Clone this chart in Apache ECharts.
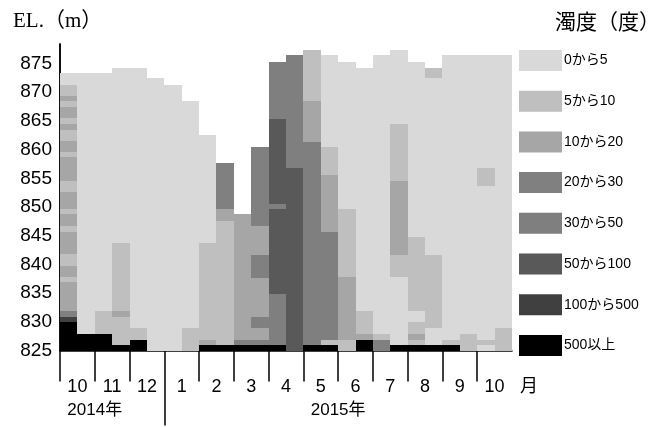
<!DOCTYPE html>
<html><head><meta charset="utf-8">
<script src="https://cdn.jsdelivr.net/npm/echarts@6/dist/echarts.min.js"></script>
<style>html,body{margin:0;padding:0;background:#fff}#c{width:668px;height:427px}</style>
</head><body><div id="c"></div>
<script>
// ---- data ----
const baseElevation = 825;
const classLabels = ['0から5','5から10','10から20','20から30','30から50','50から100','100から500','500以上'];
const monthLabels = ['10','11','12','1','2','3','4','5','6','7','8','9','10'];
const yearLabels = ['2014年','2015年'];
const yearLabelPos = [2, 16];
const yearDivider = [6];
// each month: two half-month profiles; each profile = runs of [class index, top elevation (m)] from 825 m upward
const oct2014 = [
  [[7,829.9],[6,830.9],[3,831.9],[2,836.9],[1,837.8],[2,839.8],[1,841.8],[2,845.7],[1,846.7],[2,848.7],[1,849.7],[2,852.6],[1,854.6],[2,858.7],[1,859.5],[2,861.5],[1,863.5],[2,864.4],[1,865.5],[2,867.5],[1,868.4],[2,869.4],[1,871.3],[0,873.4]],
  [[7,827.8],[0,873.4]]
];
const nov2014 = [
  [[7,827.8],[1,831.8],[0,873.4]],
  [[7,825.9],[1,830.9],[2,831.9],[1,843.7],[0,874.3]]
];
const dec2014 = [
  [[7,826.9],[1,829.0],[0,874.3]],
  [[0,872.4]]
];
const jan2015 = [
  [[0,871.3]],
  [[1,829.0],[0,868.4]]
];
const feb2015 = [
  [[7,825.9],[2,826.9],[1,843.7],[0,862.6]],
  [[7,825.9],[1,847.6],[2,849.7],[3,857.6]]
];
const mar2015 = [
  [[7,825.9],[3,826.9],[2,848.7]],
  [[7,825.9],[3,826.9],[2,829.0],[3,830.9],[2,837.7],[3,841.7],[2,846.7],[3,860.5]]
];
const apr2015 = [
  [[7,825.9],[4,834.9],[5,849.7],[4,850.6],[5,865.4],[4,875.3]],
  [[5,856.8],[4,876.4]]
];
const may2015 = [
  [[7,825.9],[4,861.4],[2,868.4],[1,877.4]],
  [[7,825.9],[1,826.9],[4,845.7],[2,855.5],[1,860.5],[0,876.4]]
];
const jun2015 = [
  [[1,826.9],[2,837.8],[1,849.7],[0,875.3]],
  [[7,826.9],[2,827.8],[1,831.8],[0,874.3]]
];
const jul2015 = [
  [[3,826.9],[1,827.9],[0,876.4]],
  [[7,825.9],[0,837.8],[1,841.7],[2,854.6],[1,864.4],[0,877.4]]
];
const aug2015 = [
  [[7,825.9],[1,826.9],[2,827.9],[1,829.9],[0,831.9],[1,844.7],[0,875.3]],
  [[7,825.9],[0,829.0],[1,841.7],[0,872.4],[1,874.3]]
];
const sep2015 = [
  [[7,825.9],[1,826.9],[0,876.4]],
  [[1,827.8],[0,876.4]]
];
const oct2015 = [
  [[0,825.9],[1,826.9],[0,853.6],[1,856.8],[0,876.4]],
  [[1,829.0],[0,876.4]]
];

// ---- styles ----
const classColors = ['#d9d9d9','#bfbfbf','#a6a6a6','#808080','#7f7f7f','#595959','#404040','#000000'];

const profiles = [].concat(oct2014, nov2014, dec2014, jan2015, feb2015, mar2015,
  apr2015, may2015, jun2015, jul2015, aug2015, sep2015, oct2015);

const cellsByClass = classLabels.map(() => []);
profiles.forEach((runs, col) => {
  let lo = baseElevation;
  runs.forEach(([k, hi]) => { cellsByClass[k].push([col, lo, hi]); lo = hi; });
});

function renderItem(params, api) {
  const col = api.value(0), lo = api.value(1), hi = api.value(2);
  const a = api.coord([col, hi]), b = api.coord([col + 1, lo]);
  const x0 = Math.round(a[0]), x1 = Math.round(b[0]);
  const y0 = Math.round(a[1]), y1 = Math.round(b[1]);
  return { type: 'rect', shape: { x: x0, y: y0, width: x1 - x0, height: y1 - y0 },
    style: { fill: api.visual('color') } };
}

const nCols = profiles.length;
const tickVals = []; for (let i = 0; i < nCols; i += 2) tickVals.push(i);
const labelVals = []; for (let i = 1; i < nCols; i += 2) labelVals.push(i);
const sans = 'Liberation Sans, Arial, Noto Sans CJK JP, sans-serif';

const chart = echarts.init(document.getElementById('c'), null, { renderer: 'canvas' });
chart.setOption({
  animation: false,
  backgroundColor: '#fff',
  title: [
    { text: 'EL.（m）', left: 8, top: 6,
      textStyle: { fontFamily: 'Liberation Serif, Noto Sans CJK JP, serif', fontSize: 21, fontWeight: 'normal', color: '#000' } },
    { text: '濁度（度）', right: 3, top: 6,
      textStyle: { fontFamily: 'Noto Sans CJK JP, serif', fontSize: 21, fontWeight: 'normal', color: '#000' } }
  ],
  legend: {
    orient: 'vertical', left: 514, top: 45, icon: 'rect',
    itemWidth: 43, itemHeight: 21, itemGap: 19.7, selectedMode: false,
    data: classLabels,
    textStyle: { fontFamily: sans, fontSize: 14, color: '#000', padding: [0, 0, 0, -3] }
  },
  grid: { left: 60, right: 156, top: 44, bottom: 76.5, containLabel: false, outerBoundsMode: 'none' },
  xAxis: [
    { type: 'value', min: 0, max: nCols, position: 'bottom',
      axisLine: { show: true, onZero: false, lineStyle: { color: '#000', width: 1.5 } },
      axisTick: { show: true, customValues: tickVals, length: 31, lineStyle: { color: '#000', width: 1.5 } },
      axisLabel: { show: true, customValues: labelVals, formatter: v => monthLabels[(v - 1) / 2],
        margin: 28, fontSize: 18, color: '#000', fontFamily: sans },
      splitLine: { show: false },
      name: '月', nameLocation: 'end', nameGap: 8,
      nameTextStyle: { fontSize: 18, color: '#000', fontFamily: 'Noto Sans CJK JP, sans-serif', verticalAlign: 'top', padding: [26, 0, 0, 0] } },
    { type: 'value', min: 0, max: nCols, position: 'bottom',
      axisLine: { show: false, onZero: false },
      axisTick: { show: true, customValues: yearDivider, length: 75, lineStyle: { color: '#000', width: 1.5 } },
      axisLabel: { show: true, customValues: yearLabelPos, formatter: v => yearLabels[yearLabelPos.indexOf(v)],
        margin: 51, fontSize: 17, color: '#000', fontFamily: sans },
      splitLine: { show: false } }
  ],
  yAxis: [
    { type: 'value', min: baseElevation, max: 878.4, interval: 5, position: 'left',
      axisLine: { show: true, lineStyle: { color: '#000', width: 1.5 } },
      axisTick: { show: false },
      axisLabel: { margin: 8, fontSize: 19, color: '#000', fontFamily: sans, showMaxLabel: false },
      splitLine: { show: false } },
    { type: 'value', min: baseElevation, max: 878.4, interval: 5, position: 'right',
      axisLine: { show: true, lineStyle: { color: '#000', width: 1.5 } },
      axisTick: { show: false }, axisLabel: { show: false }, splitLine: { show: false } }
  ],
  series: classLabels.map((name, k) => ({
    name, type: 'custom', renderItem, xAxisIndex: 0, yAxisIndex: 0,
    itemStyle: { color: classColors[k] },
    encode: { x: 0, y: [1, 2] },
    data: cellsByClass[k], z: 1
  }))
});
</script></body></html>
